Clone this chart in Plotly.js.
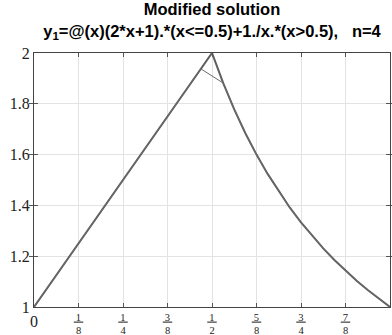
<!DOCTYPE html>
<html><head><meta charset="utf-8">
<script src="https://cdn.plot.ly/plotly-3.0.1.min.js"></script>
<style>html,body{margin:0;padding:0;background:#fff}#chart{width:392px;height:335px}</style>
</head><body><div id="chart"></div>
<script>
// x samples (step 1/32)
var xExact = [0,0.03125,0.0625,0.09375,0.125,0.15625,0.1875,0.21875,0.25,0.28125,0.3125,0.34375,0.375,0.40625,0.4375,0.46875,0.5,0.53125,0.5625,0.59375,0.625,0.65625,0.6875,0.71875,0.75,0.78125,0.8125,0.84375,0.875,0.90625,0.9375,0.96875,1];
var yExact = [1,1.0625,1.125,1.1875,1.25,1.3125,1.375,1.4375,1.5,1.5625,1.625,1.6875,1.75,1.8125,1.875,1.9375,2,1.882,1.778,1.684,1.6,1.524,1.455,1.391,1.333,1.28,1.231,1.185,1.143,1.103,1.067,1.032,1];
// modified (approximate) solution, n=4 — cuts the corner at x=1/2
var xApprox = [0,0.03125,0.0625,0.09375,0.125,0.15625,0.1875,0.21875,0.25,0.28125,0.3125,0.34375,0.375,0.40625,0.4375,0.46875,0.53125,0.5625,0.59375,0.625,0.65625,0.6875,0.71875,0.75,0.78125,0.8125,0.84375,0.875,0.90625,0.9375,0.96875,1];
var yApprox = [1,1.0625,1.125,1.1875,1.25,1.3125,1.375,1.4375,1.5,1.5625,1.625,1.6875,1.75,1.8125,1.875,1.9375,1.882,1.778,1.684,1.6,1.524,1.455,1.391,1.333,1.28,1.231,1.185,1.143,1.103,1.067,1.032,1];
var xTickVals = [0,0.125,0.25,0.375,0.5,0.625,0.75,0.875,1];
var xTickText = ['0','1/8','1/4','3/8','1/2','5/8','3/4','7/8','1'];
var yTickVals = [1,1.2,1.4,1.6,1.8,2];
var yTickText = ['1','1.2','1.4','1.6','1.8','2'];

// split ticks: whole numbers on the main axis, stacked fractions on an overlaid axis
var wholeVals = [], wholeText = [], fracVals = [], fracText = [];
xTickText.forEach(function(t, i){
  if (t.indexOf('/') < 0) { wholeVals.push(xTickVals[i]); wholeText.push(t); }
  else {
    var p = t.split('/');
    fracVals.push(xTickVals[i]);
    fracText.push('<u>&#8201;' + p[0] + '&#8201;</u><br>' + p[1]);
  }
});

var traces = [
  {x: xExact, y: yExact, type: 'scatter', mode: 'lines', line: {color: '#5e5e5e', width: 2}, hoverinfo: 'skip'},
  {x: xApprox, y: yApprox, type: 'scatter', mode: 'lines', line: {color: '#6a6a6a', width: 1}, hoverinfo: 'skip'},
  {x: [0, 1], y: [1, 1], xaxis: 'x2', type: 'scatter', mode: 'lines', line: {width: 0}, opacity: 0, hoverinfo: 'skip'}
];

var serif = 'Liberation Serif, DejaVu Serif, serif';
var layout = {
  width: 392, height: 335,
  margin: {l: 34, r: 2, t: 53, b: 28},
  paper_bgcolor: '#fff', plot_bgcolor: '#fff',
  showlegend: false,
  title: {
    text: '<b>Modified solution</b><br><b>y<sub>1</sub>=@(x)(2*x+1).*(x&lt;=0.5)+1./x.*(x&gt;0.5),&nbsp;&nbsp;&nbsp;n=4</b>',
    font: {family: 'Liberation Sans, Arial, sans-serif', size: 16.5, color: '#000'},
    x: 0.5, xref: 'paper', xanchor: 'center',
    y: 0.955, yref: 'container', yanchor: 'top'
  },
  xaxis: {
    range: [0, 1], tickmode: 'array', tickvals: wholeVals, ticktext: wholeText,
    showgrid: false, zeroline: false,
    showline: true, linecolor: '#444', linewidth: 1, mirror: 'all',
    ticks: '',
    tickfont: {family: serif, size: 16, color: '#222'},
    fixedrange: true
  },
  xaxis2: {
    range: [0, 1], overlaying: 'x', side: 'bottom', anchor: 'y',
    tickmode: 'array', tickvals: fracVals, ticktext: fracText,
    showgrid: true, gridcolor: '#e3e3e3', gridwidth: 1, zeroline: false,
    showline: true, linecolor: '#444', linewidth: 1, mirror: 'allticks',
    ticks: 'inside', ticklen: 4, tickcolor: '#555',
    tickfont: {family: serif, size: 10.5, color: '#222'},
    ticklabelstandoff: 0,
    fixedrange: true
  },
  yaxis: {
    range: [1, 2], tickmode: 'array', tickvals: yTickVals, ticktext: yTickText,
    showgrid: true, gridcolor: '#e3e3e3', gridwidth: 1, zeroline: false,
    showline: true, linecolor: '#444', linewidth: 1, mirror: 'allticks',
    ticks: 'inside', ticklen: 4, tickcolor: '#555',
    tickfont: {family: serif, size: 16, color: '#222'},
    fixedrange: true
  }
};
Plotly.newPlot('chart', traces, layout, {displayModeBar: false, staticPlot: true});
</script>
</body></html>
